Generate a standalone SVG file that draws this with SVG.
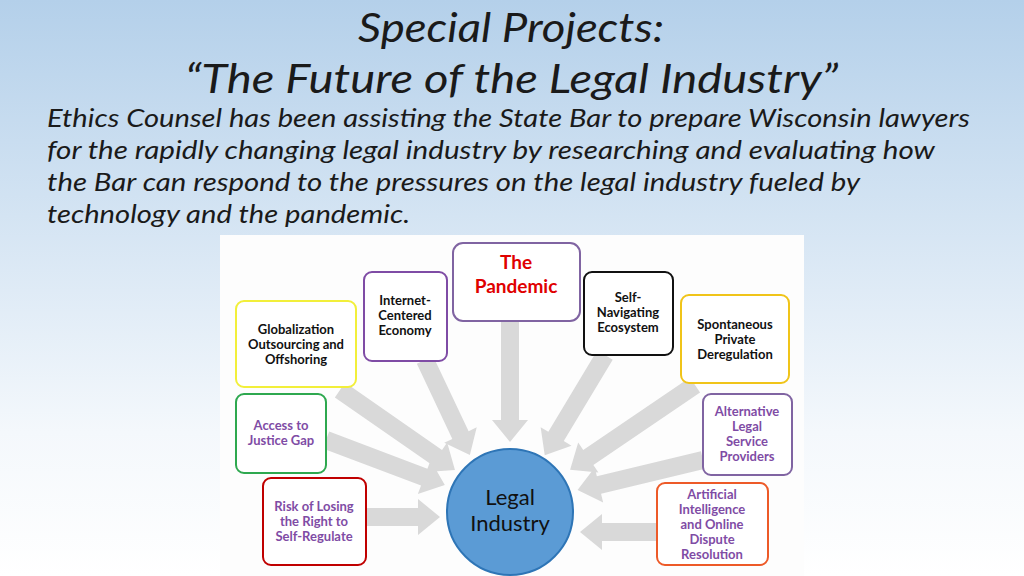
<svg xmlns="http://www.w3.org/2000/svg" width="1024" height="576" viewBox="0 0 1024 576">
<defs>
<linearGradient id="bg" x1="0" y1="0" x2="0" y2="1"><stop offset="0" stop-color="#b4d0ea"/><stop offset="0.75" stop-color="#f4f8fc"/><stop offset="1" stop-color="#ffffff"/></linearGradient>
<style>
.t{font-family:Lato,"Open Sans",sans-serif;font-style:italic;fill:#1a1a1a}
.b{fill:#fff;stroke-width:2}
.n{font-family:Lato,"Liberation Sans",sans-serif;font-weight:bold;font-size:13px;text-anchor:middle;fill:#111}
.p{fill:#7f4ca5}
.a{fill:#d9d9d9}
</style>
</defs>
<rect width="1024" height="576" fill="url(#bg)"/>
<text class="t" x="358" y="42" font-size="40" textLength="306" lengthAdjust="spacingAndGlyphs">Special Projects:</text>
<text class="t" x="185" y="93" font-size="40" textLength="653" lengthAdjust="spacingAndGlyphs">“The Future of the Legal Industry”</text>
<g class="t" font-size="25">
<text x="47" y="127" textLength="923" lengthAdjust="spacingAndGlyphs">Ethics Counsel has been assisting the State Bar to prepare Wisconsin lawyers</text>
<text x="47" y="159" textLength="888" lengthAdjust="spacingAndGlyphs">for the rapidly changing legal industry by researching and evaluating how</text>
<text x="47" y="191" textLength="813" lengthAdjust="spacingAndGlyphs">the Bar can respond to the pressures on the legal industry fueled by</text>
<text x="47" y="223" textLength="363" lengthAdjust="spacingAndGlyphs">technology and the pandemic.</text>
</g>
<rect x="220" y="235" width="584" height="341" fill="#fdfdfd"/>
<g id="connectors">
<g transform="translate(510,322) rotate(90)"><polygon class="a" points="0,-9 98,-9 98,-18 120,0 98,18 98,9 0,9"/></g>
<g transform="translate(425,360) rotate(64.7)"><polygon class="a" points="0,-9 83,-9 83,-18 105,0 83,18 83,9 0,9"/></g>
<g transform="translate(605,355) rotate(121)"><polygon class="a" points="0,-9 95,-9 95,-18 117,0 95,18 95,9 0,9"/></g>
<g transform="translate(340,390) rotate(34.8)"><polygon class="a" points="0,-9 118,-9 118,-18 140,0 118,18 118,9 0,9"/></g>
<g transform="translate(695,385) rotate(145.8)"><polygon class="a" points="0,-9 129,-9 129,-18 151,0 129,18 129,9 0,9"/></g>
<g transform="translate(326,440) rotate(20.7)"><polygon class="a" points="0,-9 105,-9 105,-18 127,0 105,18 105,9 0,9"/></g>
<g transform="translate(703,460) rotate(166.5)"><polygon class="a" points="0,-9 107,-9 107,-18 129,0 107,18 107,9 0,9"/></g>
<g transform="translate(366,517)"><polygon class="a" points="0,-9 52,-9 52,-18 74,0 52,18 52,9 0,9"/></g>
<g transform="translate(657,532) rotate(180)"><polygon class="a" points="0,-9 55,-9 55,-18 77,0 55,18 55,9 0,9"/></g>
</g>
<g id="legal"><circle cx="510" cy="512" r="63" fill="#5b9bd5" stroke="#2e75b6" stroke-width="2"/>
<text x="510" y="505" font-family="Lato,sans-serif" font-size="22" text-anchor="middle" fill="#111">Legal</text>
<text x="510" y="531" font-family="Lato,sans-serif" font-size="22" text-anchor="middle" fill="#111">Industry</text></g>
<g id="pandemic"><rect class="b" x="453" y="243" width="127" height="78" rx="10" stroke="#8064a2"/>
<text class="n" x="516" y="269" style="fill:#e00000;font-size:19px">The</text>
<text class="n" x="516" y="293" style="fill:#e00000;font-size:19px">Pandemic</text></g>
<g id="internet"><rect class="b" x="364" y="272" width="83" height="89" rx="8" stroke="#7f4ca5"/>
<text class="n" x="405" y="305">Internet-</text><text class="n" x="405" y="320">Centered</text><text class="n" x="405" y="335">Economy</text></g>
<g id="selfnav"><rect class="b" x="584" y="272" width="89" height="83" rx="8" stroke="#111"/>
<text class="n" x="628" y="302">Self-</text><text class="n" x="628" y="317">Navigating</text><text class="n" x="628" y="332">Ecosystem</text></g>
<g id="glob"><rect class="b" x="236" y="301" width="120" height="86" rx="8" stroke="#f2ef3a"/>
<text class="n" x="296" y="334">Globalization</text><text class="n" x="296" y="349">Outsourcing and</text><text class="n" x="296" y="364">Offshoring</text></g>
<g id="spont"><rect class="b" x="681" y="295" width="108" height="88" rx="8" stroke="#f0c419"/>
<text class="n" x="735" y="329">Spontaneous</text><text class="n" x="735" y="344">Private</text><text class="n" x="735" y="359">Deregulation</text></g>
<g id="access"><rect class="b" x="236" y="394" width="90" height="79" rx="8" stroke="#2ea84f"/>
<text class="n p" x="281" y="430">Access to</text><text class="n p" x="281" y="445">Justice Gap</text></g>
<g id="alt"><rect class="b" x="703" y="394" width="89" height="81" rx="8" stroke="#8064a2"/>
<text class="n p" x="747" y="416">Alternative</text><text class="n p" x="747" y="431">Legal</text><text class="n p" x="747" y="446">Service</text><text class="n p" x="747" y="461">Providers</text></g>
<g id="risk"><rect class="b" x="263" y="478" width="103" height="87" rx="8" stroke="#c00000"/>
<text class="n p" x="314" y="511">Risk of Losing</text><text class="n p" x="314" y="526">the Right to</text><text class="n p" x="314" y="541">Self-Regulate</text></g>
<g id="ai"><rect class="b" x="657" y="483" width="111" height="82" rx="8" stroke="#ed5a28"/>
<text class="n p" x="712" y="499">Artificial</text><text class="n p" x="712" y="514">Intelligence</text><text class="n p" x="712" y="529">and Online</text><text class="n p" x="712" y="544">Dispute</text><text class="n p" x="712" y="559">Resolution</text></g>
</svg>
